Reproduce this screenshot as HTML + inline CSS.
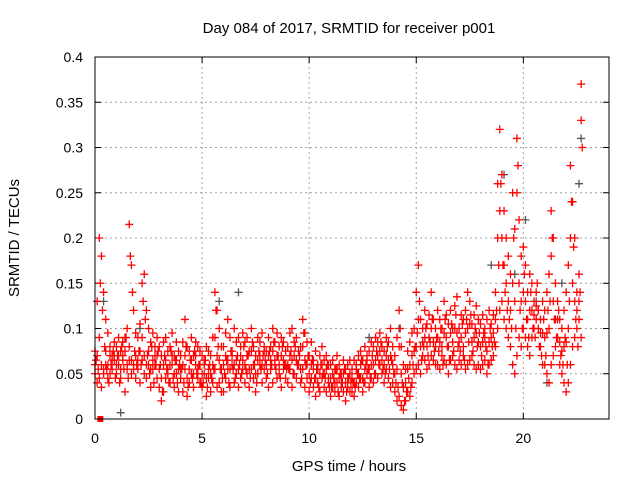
<!DOCTYPE html>
<html><head><meta charset="utf-8"><style>
body{margin:0;background:#fff}
svg{display:block;font-family:"Liberation Sans",sans-serif}
</style></head><body>
<svg id="chart" width="640" height="480" viewBox="0 0 640 480">
<rect width="640" height="480" fill="#fff"/>
<text x="349" y="33" font-size="15" text-anchor="middle">Day 084 of 2017, SRMTID for receiver p001</text>
<text x="349" y="471" font-size="15" text-anchor="middle">GPS time / hours</text>
<text transform="translate(19,238) rotate(-90)" font-size="15" text-anchor="middle">SRMTID / TECUs</text>
<g id="grid"></g>
<g id="ticks"></g>
<g id="marks"></g>
<rect x="95" y="57" width="514" height="362" fill="none" stroke="#000" stroke-width="1"/>
</svg>
<script>
const xTicks=[0,5,10,15,20];
const yTicks=[0,0.05,0.1,0.15,0.2,0.25,0.3,0.35,0.4];
const yTickLabels=["0","0.05","0.1","0.15","0.2","0.25","0.3","0.35","0.4"];
const startHour=0, stepHour=0.1;
const seriesA=[60,40,45,35,50,60,45,70,55,65, 50,60,45,70,30,55,65,50,60,45, 55,40,65,50,45,60,35,55,70,45, 35,20,30,45,55,40,60,35,50,30, 45,30,55,25,40,50,35,60,45,40, 35,50,25,45,30,40,55,35,40,30, 30,45,55,35,60,40,50,35,45,55, 40,50,35,55,45,30,50,60,40,55, 45,35,55,40,60,45,50,35,55,45, 40,55,35,50,45,60,40,55,35,45, 30,45,35,25,40,30,45,35,30,40, 25,35,30,40,25,35,30,20,35,30, 30,25,40,35,45,30,40,50,35,45, 40,50,45,60,50,40,55,45,35,40, 30,20,25,15,10,20,30,25,40,50, 55,60,50,70,65,55,60,70,65,60, 60,55,70,65,60,50,65,70,60,55, 65,60,70,55,60,65,70,60,55,60, 55,60,65,50,60,65,70,80,100,120, 130,110,100,90,80,60,50,70,90,80, 100,90,80,70,90,100,110,120,80,60, 60,50,40,60,70,80,90,60,50,40, 30,40,60,80,90,100,110,90];
const seriesB=[75,130,200,180,140,110,95,80,70,85, 80,90,75,85,90,100,215,170,120,95, 90,105,150,160,120,100,85,95,80,90, 80,70,85,90,75,80,95,70,85,75, 70,85,110,80,75,90,70,85,80,75, 70,65,80,75,70,90,140,120,100,80, 80,95,110,90,75,100,85,90,80,95, 85,90,75,100,80,70,90,85,95,80, 75,90,80,100,85,95,80,90,85,75, 80,95,100,85,90,75,80,110,95,85, 70,85,65,75,60,70,80,65,70,60, 60,65,55,70,60,50,65,55,60,65, 55,65,60,70,75,65,80,70,75,85, 80,90,85,95,80,75,90,85,100,80, 70,90,120,80,60,55,75,85,95,100, 140,170,110,100,120,105,115,140,110,100, 120,110,100,130,115,105,120,100,125,135, 100,115,110,120,140,130,105,115,125,110, 105,115,100,110,120,105,115,140,260,320, 270,230,200,180,160,250,210,310,220,180, 190,170,140,160,150,130,140,120,110,130, 120,140,160,230,200,150,130,110,100,120, 140,170,280,240,200,140,160,370];
const seriesC=[50,70,90,60,55,75,60,50,65,70, 60,70,55,65,75,60,80,65,55,70, 65,75,90,70,60,75,55,65,60,70, 55,45,60,65,50,60,70,50,65,55, 55,60,70,45,55,65,50,70,55,60, 50,60,45,55,50,60,90,70,65,55, 60,70,65,55,70,60,65,55,70,65, 60,70,55,75,60,50,65,70,60,75, 60,70,65,75,65,70,60,70,65,60, 60,70,65,70,65,60,55,80,65,60, 50,60,55,45,55,50,60,50,55,45, 45,50,40,55,45,40,50,40,45,50, 45,40,55,50,60,45,55,65,55,60, 60,65,70,75,65,60,70,65,70,60, 50,55,80,50,35,40,55,60,70,75, 80,110,80,85,90,80,90,100,85,80, 90,85,80,95,90,80,95,85,100,95, 85,90,80,95,100,105,85,90,95,85, 80,85,90,75,85,90,95,110,200,230, 200,170,150,130,120,150,130,250,150,130, 140,130,110,120,120,115,125,100,95,95, 90,95,100,180,130,110,110,85,75,80, 85,100,200,150,130,120,130,330];
const offsetStartHour=0.05;
const seriesD=[65,55,150,120,80,55,40,60,75,45, 70,40,80,55,90,45,180,140,75,60, 75,60,130,110,70,50,80,40,60,75, 60,30,70,55,40,75,45,65,40,60, 55,40,80,35,65,45,75,50,60,40, 40,65,35,60,45,55,120,80,55,45, 50,65,40,75,55,45,70,60,50,80, 55,70,45,85,60,40,75,55,70,65, 50,75,60,85,55,70,45,80,60,55, 55,75,50,80,60,70,45,95,60,70, 40,65,45,55,35,60,50,45,60,35, 35,45,55,30,50,40,55,30,45,40, 40,35,50,45,65,40,60,55,45,70, 50,75,60,85,55,50,80,55,65,50, 40,35,100,40,20,30,45,35,60,80, 95,130,65,80,100,70,85,110,75,90, 75,100,60,110,80,65,105,75,115,80, 75,105,65,110,85,115,75,100,80,95, 70,95,80,60,100,80,85,120,170,260, 170,140,120,110,100,200,100,280,120,100, 160,110,90,140,100,90,150,80,70,110, 70,120,130,200,110,90,120,70,60,90, 60,130,240,190,110,80,140,300];
const grayHours=[0.4,1.2,2.1,5.8,6.7,12.8,14.2,18.5,19.1,19.6,20.1,20.6,21.1,21.8,22.7,22.6];
const grayValues=[0.13,0.007,0.1,0.13,0.14,0.09,0.1,0.17,0.27,0.16,0.22,0.13,0.04,0.15,0.31,0.26];
const X0=95,X1=609,Y0=419,Y1=57;
const xs=h=>X0+(h-0)/(24-0)*(X1-X0);
const ys=v=>Y0-(v-0)/(0.4-0)*(Y0-Y1);
const NS="http://www.w3.org/2000/svg";
const grid=document.getElementById('grid'),ticks=document.getElementById('ticks'),marks=document.getElementById('marks');
function mk(tag,attrs,parent){const e=document.createElementNS(NS,tag);for(const k in attrs)e.setAttribute(k,attrs[k]);parent.appendChild(e);return e;}
xTicks.forEach(t=>{
  const x=xs(t);
  if(t>0){const g=mk('line',{x1:x,x2:x,y1:Y1,y2:Y0,stroke:'#a0a0a0','stroke-dasharray':'2,3'},grid);
  
  }
  const l=mk('text',{x:x,y:Y0+24,'font-size':14,'text-anchor':'middle'},ticks);l.textContent=t;
  
  
  mk('line',{x1:x,x2:x,y1:Y0,y2:Y0-6,stroke:'#000'},ticks);
  mk('line',{x1:x,x2:x,y1:Y1,y2:Y1+6,stroke:'#000'},ticks);
});
yTicks.forEach((t,i)=>{
  const y=ys(t);
  if(i>0&&i<yTicks.length-1){const g=mk('line',{x1:X0,x2:X1,y1:y,y2:y,stroke:'#a0a0a0','stroke-dasharray':'2,3'},grid);
  
  }
  const l=mk('text',{x:83,y:y+5,'font-size':14,'text-anchor':'end'},ticks);l.textContent=yTickLabels[i];
  
  
  mk('line',{x1:X0,x2:X0+6,y1:y,y2:y,stroke:'#000'},ticks);
  mk('line',{x1:X1,x2:X1-6,y1:y,y2:y,stroke:'#000'},ticks);
});
function cross(h,v,color){
  const x=xs(h),y=ys(v);
  const p=mk('path',{d:`M${x-4} ${y}H${x+4}M${x} ${y-4}V${y+4}`,stroke:color,'stroke-width':1.3,fill:'none'},marks);
  
  
}
grayHours.forEach((h,i)=>cross(h,grayValues[i],'#555'));
[seriesC,seriesA,seriesB].forEach(s=>s.forEach((v,i)=>cross(startHour+i*stepHour,v/1000,'#ff0000')));
seriesD.forEach((v,i)=>cross(offsetStartHour+i*stepHour,v/1000,'#ff0000'));
const sq=mk('rect',{x:xs(0.25)-3,y:ys(0)-3,width:6,height:6,fill:'#ff0000'},marks);


</script>
</body></html>
